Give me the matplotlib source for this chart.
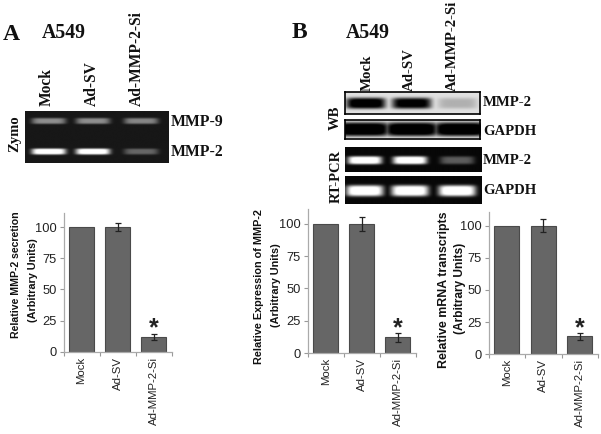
import numpy as np
import matplotlib
matplotlib.use('Agg')
import matplotlib.pyplot as plt

W, H = 601, 434

groups = ['Mock', 'Ad-SV', 'Ad-MMP-2-Si']
yticks = [0, 25, 50, 75, 100]

secretion = [100, 100, 12]
secretion_err = [0, 3.5, 2.5]
expression = [100, 100, 12]
expression_err = [0, 5.5, 3.5]
transcripts = [100, 100, 14]
transcripts_err = [0, 5, 2.5]

# band brightness per lane
zymo_mmp9 = [0.45, 0.45, 0.42]
zymo_mmp2 = [1.0, 1.0, 0.3]
wb_mmp2 = [0.95, 0.9, 0.18]
wb_gapdh = [1.0, 1.0, 1.0]
pcr_mmp2 = [1.0, 1.0, 0.3]
pcr_gapdh = [1.0, 1.0, 1.0]

fig = plt.figure(figsize=(W/100, H/100), dpi=100)
serif = 'Liberation Serif'
sans = 'Liberation Sans'


def px_axes(x0, y0, x1, y1):
    return fig.add_axes([x0/W, 1-y1/H, (x1-x0)/W, (y1-y0)/H])


def txt(x, y, s, size=10, rot=0, ha='center', va='center', family=serif, weight='bold'):
    fig.text(x/W, 1-y/H, s, fontsize=size, rotation=rot, ha=ha, va=va,
             family=family, weight=weight, color='#111111')


def gel(box, lanes, rows, half_w, bg, inverted=False, frame=False):
    x0, y0, x1, y1 = box
    xx, yy = np.meshgrid(np.arange(x0, x1, 0.5), np.arange(y0, y1, 0.5))
    img = np.zeros(xx.shape)
    for yc, half_h, levels in rows:
        for xc, lev in zip(lanes, levels):
            band = np.exp(-((xx-xc)/half_w)**6 - ((yy-yc)/half_h)**4)
            img = np.maximum(img, band*lev)
    if inverted:
        img = bg - bg*np.clip(img*1.2, 0, 1)
    else:
        img = bg + (1-bg)*np.clip(img*1.15, 0, 1)
    ax = px_axes(*box)
    ax.imshow(img, cmap='gray', vmin=0, vmax=1, aspect='auto', interpolation='bilinear')
    ax.set_xticks([])
    ax.set_yticks([])
    for s in ax.spines.values():
        s.set_visible(frame)
        s.set_linewidth(1.2)
    return ax


def bars(box, top_y, vals, errs):
    x0, y100, x1, y_base = box
    per_unit = (y_base-y100)/100
    ymax = (y_base-top_y)/per_unit
    ax = px_axes(x0, top_y, x1, y_base)
    pos = np.arange(len(vals))
    errs_shown = [e if e > 0 else np.nan for e in errs]
    ax.bar(pos, vals, width=0.69, color='#666666', edgecolor='#4a4a4a', linewidth=0.8,
           yerr=errs_shown, ecolor='#222222', error_kw=dict(elinewidth=0.9, capsize=2.5, capthick=0.9))
    ax.set_xlim(-0.5, 2.5)
    ax.set_ylim(0, ymax)
    ax.set_yticks(yticks)
    ax.set_xticks([-0.5, 0.5, 1.5, 2.5])
    ax.set_xticklabels([])
    ax.tick_params(axis='both', color='#999999', length=3, width=0.8, pad=2)
    ax.tick_params(axis='y', labelsize=9.3, labelcolor='#222222')
    for lab in ax.get_yticklabels():
        lab.set_family(sans)
    for s in ['top', 'right']:
        ax.spines[s].set_visible(False)
    for s in ['left', 'bottom']:
        ax.spines[s].set_color('#aaaaaa')
        ax.spines[s].set_linewidth(0.9)
    for p, g in zip(pos, groups):
        ax.annotate(g, (p, 0), xytext=(0, -3.5), textcoords='offset points', rotation=90,
                    ha='center', va='top', fontsize=8.2, family=sans, color='#222222',
                    annotation_clip=False)
    ax.annotate('*', (2, vals[2]+errs[2]), xytext=(0, -5), textcoords='offset points',
                ha='center', va='bottom', fontsize=18, family=sans, weight='bold', color='#222222')
    return ax


# panel A
txt(11, 34, 'A', 17)
txt(63.5, 33, 'A549', 14.3)
for x, g in zip([47, 92, 137], groups):
    txt(x, 106, g, 11.2, rot=90, va='bottom')
txt(14.5, 134, 'Zymo', 10.5, rot=90)
gel((24.5, 111.5, 168, 163.5), [48, 92, 140],
    [(122, 3, zymo_mmp9), (152, 3, zymo_mmp2)], 17, 0.09)
txt(171, 122, 'MMP-9', 11.3, ha='left')
txt(171, 152, 'MMP-2', 11.3, ha='left')

# panel B
txt(299, 33, 'B', 17)
txt(368, 33, 'A549', 14.3)
for x, g in zip([367, 409, 452], groups):
    txt(x, 91, g, 10.7, rot=90, va='bottom')
gel((344.5, 92, 479.5, 114), [365, 410.5, 456], [(103, 5.5, wb_mmp2)], 19.5, 0.88, inverted=True, frame=True)
gel((344.5, 119.5, 479.5, 138.5), [362, 410.5, 459], [(129.5, 7, wb_gapdh)], 27, 0.92, inverted=True, frame=True)
gel((344.5, 147, 481, 172), [364, 409, 456], [(160, 4, pcr_mmp2)], 17, 0.03)
gel((344.5, 176, 481, 204), [364, 409, 456], [(190.5, 5.5, pcr_gapdh)], 18.5, 0.03)
txt(335, 118, 'WB', 10.5, rot=90)
txt(336, 176, 'RT-PCR', 10.5, rot=90)
for y, g in [(103, 'MMP-2'), (131, 'GAPDH'), (160, 'MMP-2'), (191, 'GAPDH')]:
    txt(483, y, g, 10.6, ha='left')

# bar charts
bars((63.5, 227, 172, 351.7), 213, secretion, secretion_err)
txt(16, 275, 'Relative MMP-2 secretion', 7.6, rot=90, family=sans)
txt(33, 280, '(Arbitrary Units)', 7.8, rot=90, family=sans)

bars((307.7, 223.7, 415.7, 353), 209, expression, expression_err)
txt(259, 287, 'Relative Expression of MMP-2', 7.8, rot=90, family=sans)
txt(276, 285, '(Arbitrary Units)', 7.8, rot=90, family=sans)

bars((488.7, 225.7, 598, 354.3), 212, transcripts, transcripts_err)
txt(444, 289.5, 'Relative mRNA transcripts', 8.9, rot=90, family=sans)
txt(460, 288, '(Arbitrary Units)', 8.6, rot=90, family=sans)

fig.savefig('out.png', dpi=100)
